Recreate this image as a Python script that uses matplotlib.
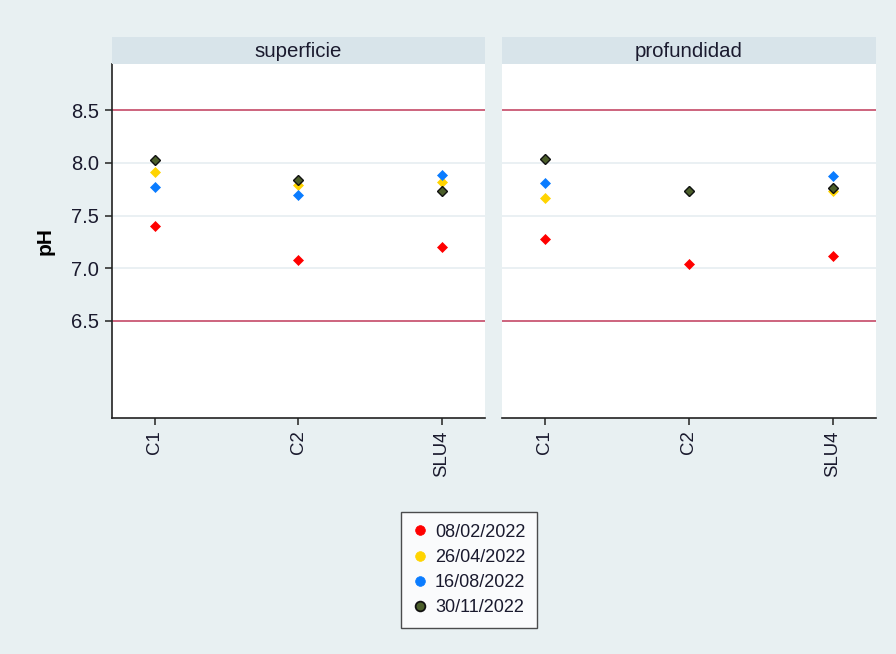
import numpy as np
import matplotlib
matplotlib.use("Agg")
import matplotlib.pyplot as plt
from matplotlib.lines import Line2D

plt.rcParams['font.family'] = ['Liberation Sans', 'DejaVu Sans']

sites = ["C1", "C2", "SLU4"]
panels = ["superficie", "profundidad"]
dates = ["08/02/2022", "26/04/2022", "16/08/2022", "30/11/2022"]

# pH per sampling date, one list per site order C1, C2, SLU4
ph_superficie = {
    "08/02/2022": [7.40, 7.08, 7.20],
    "26/04/2022": [7.91, 7.79, 7.82],
    "16/08/2022": [7.77, 7.70, 7.89],
    "30/11/2022": [8.03, 7.84, 7.73],
}
ph_profundidad = {
    "08/02/2022": [7.28, 7.04, 7.12],
    "26/04/2022": [7.67, 7.73, 7.73],
    "16/08/2022": [7.81, 7.73, 7.88],
    "30/11/2022": [8.04, 7.73, 7.76],
}
limits = [6.5, 8.5]
yticks = [6.5, 7.0, 7.5, 8.0, 8.5]

colors = ["#ff0000", "#ffd400", "#0a7cff", "#4b5e2a"]
edges = ["#ff0000", "#ffd400", "#0a7cff", "#111111"]

bg = "#e8f0f2"
strip = "#d8e4ea"
txt = "#1a1a2e"
W, H = 896, 654

fig = plt.figure(figsize=(W / 100, H / 100), dpi=100, facecolor=bg)


def px(x0, y0, x1, y1):
    return [x0 / W, 1 - y1 / H, (x1 - x0) / W, (y1 - y0) / H]


boxes = [(111.7, 485), (501.7, 876)]
xs = np.arange(len(sites))

for i, (name, data) in enumerate(zip(panels, [ph_superficie, ph_profundidad])):
    x0, x1 = boxes[i]
    ax = fig.add_axes(px(x0, 64, x1, 417.7))
    ax.set_facecolor("white")
    ax.set_xlim(-0.3, 2.3)
    ax.set_ylim(5.58, 8.94)
    for y in [7.0, 7.5, 8.0]:
        ax.axhline(y, color="#e6eef1", lw=1.2, zorder=0)
    for y in limits:
        ax.axhline(y, color="#c0395a", lw=1.1, zorder=1)
    for d, c, e in zip(dates, colors, edges):
        ax.plot(xs, data[d], ls="none", marker="D", ms=4.6, mfc=c, mec=e,
                mew=1.0 if e == "#111111" else 0.5, zorder=3)
    for s in ["top", "right"]:
        ax.spines[s].set_visible(False)
    ax.spines["bottom"].set_color("#222222")
    ax.spines["bottom"].set_linewidth(1.2)
    ax.set_xticks(xs)
    ax.set_xticklabels(sites, rotation=90, fontsize=13.4, color=txt)
    ax.tick_params(axis="x", length=5, width=1.1, color="#222222", pad=4)
    if i == 0:
        ax.spines["left"].set_color("#222222")
        ax.spines["left"].set_linewidth(1.2)
        ax.set_yticks(yticks)
        ax.set_yticklabels([f"{v:.1f}" for v in yticks], fontsize=14.5,
                           color=txt)
        ax.tick_params(axis="y", length=5, width=1.1, color="#222222", pad=4)
        ax.set_ylabel("pH", fontsize=15, fontweight="bold", labelpad=12)
    else:
        ax.spines["left"].set_visible(False)
        ax.set_yticks([])

    sax = fig.add_axes(px(x0, 36.7, x1, 64))
    sax.set_facecolor(strip)
    sax.set_xticks([])
    sax.set_yticks([])
    for s in sax.spines.values():
        s.set_visible(False)
    sax.text(0.5, 0.45, name, ha="center", va="center", fontsize=14.7,
             color=txt, transform=sax.transAxes)

handles = [Line2D([], [], ls="none", marker="o", ms=7, mfc=c, mec=e,
                  mew=1.3 if e == "#111111" else 0.5)
           for c, e in zip(colors, edges)]
leg = fig.legend(handles, dates, loc="center",
                 bbox_to_anchor=(469 / W, 1 - 570 / H), fontsize=13,
                 frameon=True, fancybox=False, edgecolor="#222222",
                 handlelength=0.8, handletextpad=0.45, labelspacing=0.45,
                 borderpad=0.65, borderaxespad=0)
leg.get_frame().set_linewidth(1.0)
for t in leg.get_texts():
    t.set_color(txt)

fig.savefig("out.png", dpi=100, facecolor=bg)
